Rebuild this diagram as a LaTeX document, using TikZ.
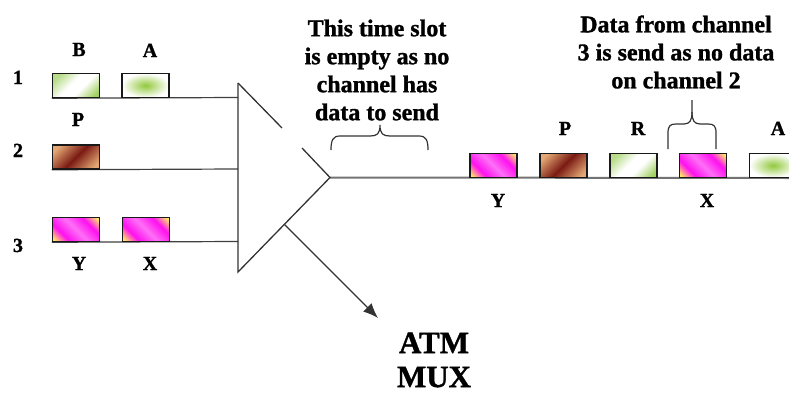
\documentclass[tikz,border=0pt]{standalone}
\usepackage{fontspec}
\setmainfont{Liberation Serif}[BoldFeatures={FakeBold=1.2}]
\usetikzlibrary{arrows.meta,backgrounds}
\definecolor{gr}{HTML}{8CC63F}
\definecolor{tanc}{HTML}{E4A874}
\definecolor{brn}{HTML}{7A1A12}
\definecolor{yel}{HTML}{FFF060}
\definecolor{mag}{HTML}{FF10F0}
\pgfdeclareverticalshading{ymag}{100bp}{color(0bp)=(yel); color(17bp)=(yel); color(32bp)=(mag); color(50bp)=(mag!60!white); color(68bp)=(mag); color(83bp)=(yel); color(100bp)=(yel)}
\pgfdeclareverticalshading{gdg}{100bp}{color(0bp)=(gr); color(22bp)=(gr!80); color(42bp)=(white); color(56bp)=(white); color(76bp)=(gr!60); color(100bp)=(gr!70)}
\pgfdeclareverticalshading{bdg}{100bp}{color(0bp)=(tanc); color(22bp)=(tanc); color(50bp)=(brn); color(78bp)=(tanc); color(100bp)=(tanc)}
\tikzset{
  box/.style={draw=black!90, line width=1.5pt, minimum width=47pt, minimum height=24pt, inner sep=0pt},
  gdiag/.style={box, shade, shading=gdg, shading angle=45},
  gcent/.style={box, inner color=gr!95!yellow, outer color=white},
  bdiag/.style={box, shade, shading=bdg, shading angle=45},
  ymbox/.style={box, shade, shading=ymag, shading angle=-45},
  lbl/.style={font=\fontsize{20}{20}\selectfont\bfseries, anchor=base, inner sep=0pt},
  txt/.style={font=\fontsize{24}{28}\selectfont\bfseries, align=center, inner sep=0pt},
  big/.style={font=\fontsize{31}{34}\selectfont\bfseries, align=center, inner sep=0pt},
  chline/.style={draw=black!75, line width=1.2pt},
  muxline/.style={draw=black!80, line width=1.3pt},
  outline/.style={draw=black!55, line width=2pt},
  bracel/.style={draw=black!80, line width=1.2pt}
}
\begin{document}
\begin{tikzpicture}[x=1pt,y=-1pt]
\useasboundingbox (0,0) rectangle (789,394);
% input boxes
\node[gdiag] (b1) at (76,85.5) {};
\node[gcent] (a1) at (145.5,85.5) {};
\node[bdiag] (p2) at (76,157) {};
\node[ymbox] (y3) at (76,229.5) {};
\node[ymbox] (x3) at (146,229.5) {};
% output boxes
\node[ymbox] (oy) at (493.5,165.5) {};
\node[bdiag] (op) at (563.5,165.5) {};
\node[gdiag] (orr) at (633.5,165.5) {};
\node[ymbox] (ox) at (703,165.5) {};
\node[gcent] (oa) at (773,165.5) {};
% coordinates
\coordinate (mt) at (238,83);
\coordinate (mb) at (238,272);
\coordinate (ap) at (330,177.5);
\coordinate (g1) at (282,128);
\coordinate (g2) at (302,148);
\coordinate (m1) at (238,97.5);
\coordinate (m2) at (238,169);
\coordinate (m3) at (238,241.5);
\coordinate (arS) at (284,224);
\coordinate (arE) at (378,318);
\coordinate (oe) at (789,178);
\begin{scope}[on background layer]
\draw[chline] (b1.south west) -- (m1);
\draw[chline] (p2.south west) -- (m2);
\draw[chline] (y3.south west) -- (m3);
\draw[outline] (ap) -- (oe);
\end{scope}
% mux
\draw[muxline] (mt) -- (mb) -- (ap) -- (g2);
\draw[muxline] (mt) -- (g1);
\draw[muxline, -{Latex[length=15pt,width=12pt]}] (arS) -- (arE);
% braces
\draw[bracel] (331,150) .. controls (331,140) and (333,136) .. (340,136) -- (370,136)
  .. controls (377,136) and (380,134) .. (380,125)
  .. controls (380,134) and (383,136) .. (390,136) -- (419,136)
  .. controls (426,136) and (428,140) .. (428,150);
\draw[bracel] (668,149) -- (668,133) .. controls (668,126) and (670,124) .. (676,124) -- (684,124)
  .. controls (690,124) and (692,120) .. (692,112) -- (692,100);
\draw[bracel] (692,112) .. controls (692,120) and (694,124) .. (700,124) -- (708,124)
  .. controls (714,124) and (716,126) .. (716,133) -- (716,149);
% labels
\node[lbl] (n1) at (18,84) {1};
\node[lbl] (n2) at (18,157) {2};
\node[lbl] (n3) at (18,252) {3};
\node[lbl] (lb) at (79,56) {B};
\node[lbl] (la) at (150,57) {A};
\node[lbl] (lp) at (78,126) {P};
\node[lbl] (ly) at (79,270) {Y};
\node[lbl] (lx) at (150,270) {X};
\node[lbl] (olp) at (565,135) {P};
\node[lbl] (olr) at (638,135) {R};
\node[lbl] (ola) at (778,135) {A};
\node[lbl] (oly) at (498,207) {Y};
\node[lbl] (olx) at (707,207) {X};
% texts
\node[txt] (t1) at (377,70) {This time slot\\is empty as no\\channel has\\data to send};
\node[txt] (t2) at (676,52) {Data from channel\\3 is send as no data\\on channel 2};
\node[big] (t3) at (434,360) {ATM\\MUX};
\end{tikzpicture}
\end{document}
